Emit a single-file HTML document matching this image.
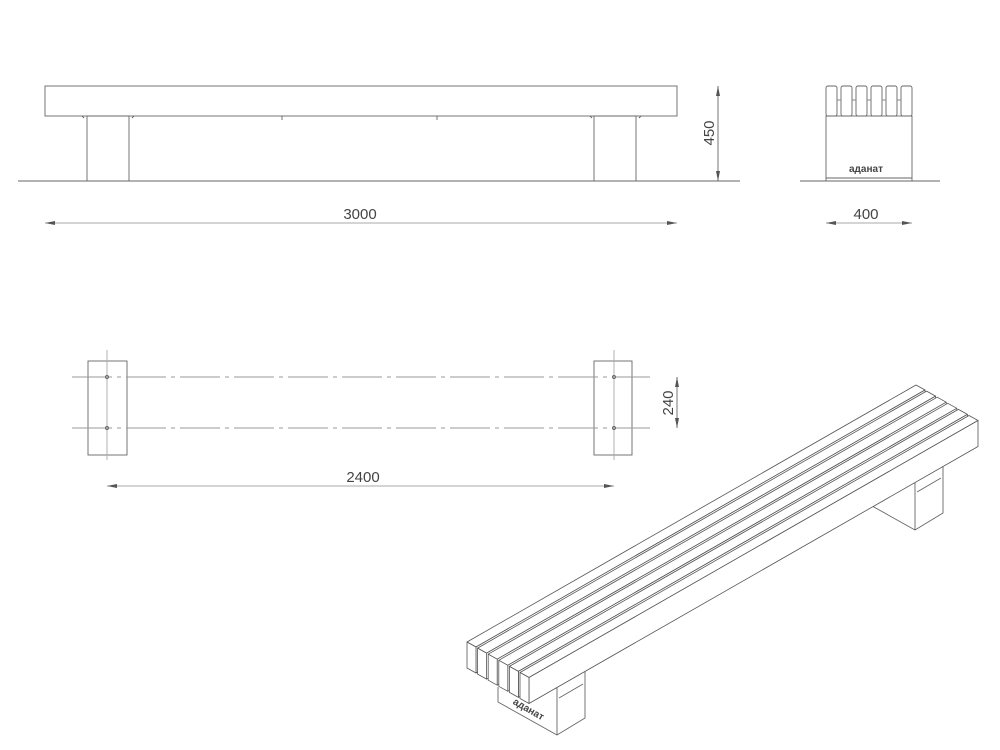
<!DOCTYPE html>
<html><head><meta charset="utf-8"><style>
html,body{margin:0;padding:0;background:#fff;}
svg{display:block;}
text{font-family:"Liberation Sans",sans-serif;fill:#444;}
</style></head><body>
<svg width="1000" height="750" viewBox="0 0 1000 750" xmlns="http://www.w3.org/2000/svg">
<defs>
<marker id="ar" viewBox="0 0 10 4" refX="10" refY="2" markerWidth="14" markerHeight="4" markerUnits="userSpaceOnUse" orient="auto-start-reverse"><path d="M0,0 L10,2 L0,4 z" fill="#555"/></marker>
</defs>
<g stroke="#666" stroke-width="0.9" fill="none">
<!-- front elevation -->
<rect x="45" y="86" width="632" height="30" fill="#fff"/>
<line x1="18" y1="181" x2="740" y2="181"/>
<rect x="87" y="116" width="42" height="65"/>
<rect x="594" y="116" width="42" height="65"/>
<path d="M282,116 v4 M437,116 v4 M82,116 l2,2 M134,116 l-2,2 M590,116 l2,2 M641,116 l-2,2"/>
<line x1="718" y1="86" x2="718" y2="181" marker-start="url(#ar)" marker-end="url(#ar)"/>
<line x1="45" y1="223" x2="677" y2="223" stroke="#aaa" marker-start="url(#ar)" marker-end="url(#ar)"/>
<!-- side view -->
<line x1="800" y1="181" x2="940" y2="181"/>
<rect x="826" y="116" width="86" height="65"/>
<line x1="826" y1="178" x2="912" y2="178"/>
<g fill="#fff">
<rect x="826" y="86" width="11" height="30" rx="2"/>
<rect x="841" y="86" width="11" height="30" rx="2"/>
<rect x="856" y="86" width="11" height="30" rx="2"/>
<rect x="871" y="86" width="11" height="30" rx="2"/>
<rect x="886" y="86" width="11" height="30" rx="2"/>
<rect x="901" y="86" width="11" height="30" rx="2"/>
</g>
<path d="M837,100h4M852,100h4M867,100h4M882,100h4M897,100h4" stroke="#888"/>
<line x1="826" y1="223" x2="912" y2="223" stroke="#aaa" marker-start="url(#ar)" marker-end="url(#ar)"/>
<!-- plan -->
<rect x="88" y="361" width="39" height="94"/>
<rect x="594" y="361" width="38" height="94"/>
<g stroke="#999" stroke-dasharray="40,5,4,5">
<line x1="72" y1="377" x2="650" y2="377"/>
<line x1="72" y1="428" x2="650" y2="428"/>
</g>
<line x1="107" y1="350" x2="107" y2="460" stroke="#aaa"/>
<line x1="614" y1="350" x2="614" y2="460" stroke="#aaa"/>
<circle cx="107" cy="377" r="1.5"/><circle cx="107" cy="428" r="1.5"/>
<circle cx="614" cy="377" r="1.5"/><circle cx="614" cy="428" r="1.5"/>
<line x1="677" y1="377" x2="677" y2="428" marker-start="url(#ar)" marker-end="url(#ar)"/>
<line x1="107" y1="486" x2="614" y2="486" stroke="#aaa" marker-start="url(#ar)" marker-end="url(#ar)"/>
<!-- back leg -->
<path d="M856,482 L856,497 L915,530 L943,513 L943,465 M915,530 L915,480 M917,492 L941,478"/>
<!-- front leg -->
<path d="M498,687 L498,702 L557,735 L585,718 L585,670 M557,735 L557,685 M559,698 L583,684" fill="#fff"/>
</g>
<text x="527" y="712" font-size="10" font-weight="bold" fill="#555" text-anchor="middle" transform="rotate(30 527 712)">аданат</text>
<text x="866" y="172" font-size="10" font-weight="bold" fill="#888" text-anchor="middle">аданат</text>
<g stroke="#555" stroke-width="0.8" fill="#fff" stroke-linejoin="round">
<g id="s0">
<path d="M467,642 l449,-257 l9,5 l-449,257 z"/>
<path d="M476,647 l449,-257 l0,26 l-449,257 z"/>
<path d="M467,642 l9,5 l0,26 l-9,-5 z"/>
</g>
<use href="#s0" transform="translate(10.6,6.1)"/>
<use href="#s0" transform="translate(21.2,12.2)"/>
<use href="#s0" transform="translate(31.8,18.3)"/>
<use href="#s0" transform="translate(42.4,24.4)"/>
<use href="#s0" transform="translate(53,30.5)"/>
</g>
<text x="360" y="219" font-size="15" text-anchor="middle">3000</text>
<text x="866" y="219" font-size="15" text-anchor="middle">400</text>
<text x="363" y="482" font-size="15" text-anchor="middle">2400</text>
<text transform="translate(714,133) rotate(-90)" font-size="15" text-anchor="middle">450</text>
<text transform="translate(673,403) rotate(-90)" font-size="15" text-anchor="middle">240</text>
</svg>
</body></html>
